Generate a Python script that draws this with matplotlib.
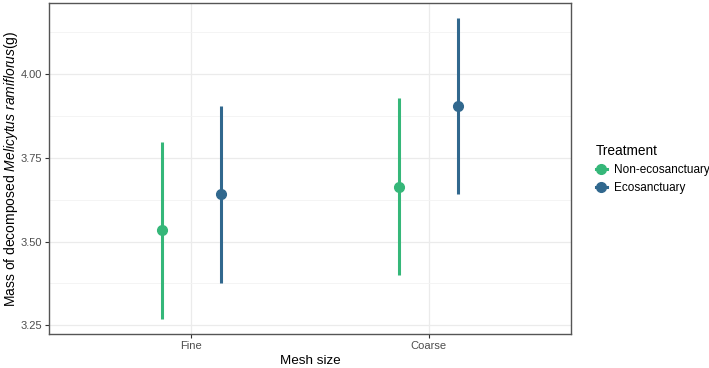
import matplotlib.pyplot as plt
from matplotlib.lines import Line2D
import numpy as np

plt.rcParams['font.family'] = ['Liberation Sans', 'DejaVu Sans']
plt.rcParams['mathtext.fontset'] = 'custom'
plt.rcParams['mathtext.rm'] = 'Liberation Sans'
plt.rcParams['mathtext.it'] = 'Liberation Sans:italic'

# data
mesh = ['Fine', 'Coarse']
treatments = ['Non-ecosanctuary', 'Ecosanctuary']
colors = ['#35B779', '#31688E']
means = {'Non-ecosanctuary': [3.534, 3.663], 'Ecosanctuary': [3.641, 3.906]}
lower = {'Non-ecosanctuary': [3.269, 3.401], 'Ecosanctuary': [3.376, 3.641]}
upper = {'Non-ecosanctuary': [3.798, 3.929], 'Ecosanctuary': [3.906, 4.169]}

fig = plt.figure(figsize=(7.09, 3.68), dpi=100)
ax = fig.add_axes([0.0695, 0.0924, 0.7355, 0.9003])

x = np.arange(1, len(mesh) + 1)
offsets = [-0.125, 0.125]
for t, c, off in zip(treatments, colors, offsets):
    ax.vlines(x + off, lower[t], upper[t], color=c, lw=2.2, zorder=3)
    ax.plot(x + off, means[t], 'o', color=c, ms=7, zorder=4)

ax.set_xlim(0.4, 2.6)
ax.set_ylim(3.224, 4.214)
ax.set_xticks(x)
ax.set_xticklabels(mesh)
yt = [3.25, 3.50, 3.75, 4.00]
ax.set_yticks(yt)
ax.set_yticklabels(['%.2f' % v for v in yt])
ax.set_yticks([3.375, 3.625, 3.875, 4.125], minor=True)

ax.grid(True, which='major', color='#EBEBEB', lw=0.9, zorder=0)
ax.grid(True, which='minor', axis='y', color='#F3F3F3', lw=0.6, zorder=0)
ax.set_axisbelow(True)
for s in ax.spines.values():
    s.set_color('#555555')
    s.set_linewidth(1.0)
ax.tick_params(axis='both', which='major', length=3, width=0.8, color='#333333',
               labelsize=8, labelcolor='#4D4D4D', pad=2)
ax.tick_params(axis='y', which='minor', length=0)

ax.set_xlabel('Mesh size', fontsize=9.7, labelpad=3)
ax.set_ylabel(r'Mass of decomposed $\mathit{Melicytus\ ramiflorus}$(g)', fontsize=10)
ax.yaxis.set_label_coords(-0.056, 0.5)

handles = [Line2D([0], [0], color=c, marker='o', ms=7, lw=2.2) for c in colors]
leg = fig.legend(handles, treatments, loc='upper left', bbox_to_anchor=(0.825, 0.638),
                 frameon=False, fontsize=8.5, title='Treatment', title_fontsize=9.8,
                 handlelength=1.0, handletextpad=0.6, labelspacing=0.5)
leg._legend_box.align = 'left'

fig.savefig('out.png', dpi=100)
